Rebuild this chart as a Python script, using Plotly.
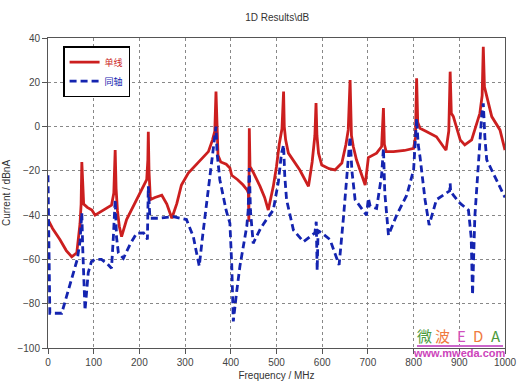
import plotly.graph_objects as go

# ---- data ----
red_name = "单线"
blue_name = "同轴"

red_freq = [0, 10, 26, 40, 52, 63, 70, 72.5, 74, 76, 78, 86, 96, 103, 120, 139, 144, 147, 149, 152,
            156, 161, 172, 194, 210, 216, 218.5, 219.5, 221, 224, 234, 249, 260, 267, 271, 282, 292,
            307, 330, 351, 360, 365, 367.6, 369.5, 372, 378, 390, 398, 402, 415, 427, 436, 438.5,
            439.5, 440.5, 442, 450, 464, 474, 482, 493, 500, 506, 512, 515.5, 517, 520, 526, 551,
            570, 578, 584, 586.5, 588.5, 592, 599, 615, 628, 643, 652, 657, 661, 664, 668, 675, 694,
            701, 719, 730, 734, 736, 740, 756, 780, 800, 804, 806.6, 809, 814, 829, 850, 865, 871,
            877, 880, 882.5, 887, 902, 912, 927, 945, 950, 952.5, 955, 960, 971, 989, 1000]
red_db = [-42, -46, -51, -56, -58.8, -57, -44, -35, -16, -32, -35, -36.5, -37.7, -40, -38, -35.5,
          -30, -10.6, -28, -38, -45, -49.7, -42, -33, -27, -24, -15, -2.3, -20, -33, -32, -31, -35,
          -39, -41.4, -34.7, -26.4, -21, -16, -11.3, -6, -2, 15.8, -3, -13, -16, -17, -18.7, -22,
          -24, -26.4, -28.7, -30, -43, -0.8, -18, -21, -27, -32, -37.7, -27, -18, -8, -1, 15.8, 0,
          -6, -12, -19.6, -27, -16, -4, 10.6, -4, -12, -17.4, -19, -19.6, -16.5, -8, -1.5, 21, -4,
          -9, -15, -26.4, -14, -12, -9, 8.4, -8, -11.3, -11.3, -10.8, -9.8, -5, 21.8, 2, -0.8,
          -2.3, -4.6, -9, -10.6, -2, 24.8, 6, 4.5, -6, -8.3, -6, 6, 14, 36, 18, 13.5, 4.5, -1.5,
          -10.6]

blue_freq = [0, 2, 4, 30, 48, 64, 70, 74, 76, 81, 88, 95, 103, 117, 130, 139, 143, 147, 150, 154,
             165, 180, 194, 209, 216, 217.5, 219.5, 221, 223, 241, 274, 303, 318, 324, 331, 338,
             347, 358, 365, 367.6, 370, 376, 390, 398, 402, 405.5, 412, 420, 435, 438, 440.5, 443,
             449, 465, 478, 493, 504, 511, 515.5, 518, 522, 537, 559, 584, 587, 589, 591, 599, 617,
             637, 647, 657, 661, 665, 672, 697, 701, 705, 719, 730, 734, 737, 745, 763, 785, 800,
             806.6, 810, 814, 825, 834, 850, 872, 879, 880, 881, 887, 902, 920, 926, 929, 931, 934,
             949, 952.5, 956, 960, 974, 996, 1000]
blue_db = [-22, -60, -84.3, -84.3, -72, -60, -52, -39, -55, -83, -66, -61, -60, -60, -62, -64, -50,
           -33, -50, -57, -59.5, -53, -48.2, -48, -50, -51, -27, -36, -41.4, -41.4, -40.7, -42,
           -49.7, -56, -63, -50, -34.7, -15, -3, 0, -12, -24, -38, -43.6, -62, -88, -76, -63, -45,
           -38, -18.7, -38, -52.7, -46, -42, -37.7, -25, -12, -8.3, -22, -33, -46.7, -52, -48,
           -43, -65, -47, -48, -51, -62.5, -40, -15, -4.6, -20, -33, -40, -32.4, -36, -37, -22,
           -9.8, -30, -49, -40, -31, -19.6, 3.7, -8, -13.6, -33, -44.5, -33, -30, -29, -25.6, -29,
           -31, -34.7, -37.7, -50, -76, -55, -40.7, 5, 10.5, -5, -15, -21, -30, -32]

x_ticks = [0, 100, 200, 300, 400, 500, 600, 700, 800, 900, 1000]
y_ticks = [-100, -80, -60, -40, -20, 0, 20, 40]

title_text = "1D Results\\dB"
x_title = "Frequency / MHz"
y_title = "Current / dBnA"

RED = "#cc1f1f"
BLUE = "#1424b0"
FONT = "Liberation Sans, DejaVu Sans, sans-serif"
CJK = "Noto Sans CJK SC"

fig = go.Figure()
fig.add_trace(go.Scatter(
    x=red_freq, y=red_db, mode="lines",
    name=f"<span style='color:{RED}'>{red_name}</span>",
    line=dict(color=RED, width=2.8),
))
fig.add_trace(go.Scatter(
    x=blue_freq, y=blue_db, mode="lines",
    name=f"<span style='color:{BLUE}'>{blue_name}</span>",
    line=dict(color=BLUE, width=2.8, dash="7px,4px"),
))

axis_common = dict(
    showline=True, linecolor="#555555", linewidth=1, mirror=True,
    showgrid=True, gridcolor="#888888", griddash="dot", gridwidth=1,
    ticks="outside", ticklen=5, tickcolor="#555555",
    tickfont=dict(family=FONT, size=10, color="#444444"),
    zeroline=False, automargin=False,
)

fig.update_layout(
    width=523, height=382,
    margin=dict(l=48, r=18, t=38, b=34),
    paper_bgcolor="white", plot_bgcolor="white",
    title=dict(text=title_text, x=0.53, xanchor="center", y=0.953, yanchor="middle",
               font=dict(family=FONT, size=10, color="#333333")),
    xaxis=dict(range=[0, 1000], tickvals=x_ticks,
               title=dict(text=x_title, standoff=4, font=dict(family=FONT, size=10, color="#333333")),
               **axis_common),
    yaxis=dict(range=[-100, 40], tickvals=y_ticks,
               title=dict(text=y_title, standoff=4, font=dict(family=FONT, size=10, color="#333333")),
               **axis_common),
    legend=dict(x=0.033, y=0.974, xanchor="left", yanchor="top",
                bgcolor="white", bordercolor="black", borderwidth=1.5,
                font=dict(family=CJK, size=9), itemwidth=30, tracegroupgap=0),
    showlegend=True,
)

# watermark
def px2paper(px, py):
    return (px - 48) / 457.0, (348 - py) / 310.0

for ch, cx, col in [("微", 424, "#4c9a3c"), ("波", 442, "#f07a40"), ("E", 461, "#d050c0"),
                    ("D", 478, "#f07a40"), ("A", 496, "#4c9a3c")]:
    xp, yp = px2paper(cx, 335)
    fig.add_annotation(x=xp, y=yp, xref="paper", yref="paper", text=ch, showarrow=False,
                       xanchor="center", yanchor="middle",
                       font=dict(family=CJK, size=15, color=col))
xp, yp = px2paper(459, 353)
fig.add_annotation(x=xp, y=yp, xref="paper", yref="paper", text="<b>www.mweda.com</b>",
                   showarrow=False, xanchor="center", yanchor="middle",
                   font=dict(family=FONT, size=11, color="#cc44bb"))
x0, y0 = px2paper(417, 346)
x1, _ = px2paper(503, 346)
fig.add_shape(type="line", xref="paper", yref="paper", x0=x0, x1=x1, y0=y0, y1=y0,
              line=dict(color="#cc66cc", width=2))

fig.write_html("out.html", config={"displayModeBar": False},
               post_script="document.body.style.margin='0';document.body.style.padding='0';")
